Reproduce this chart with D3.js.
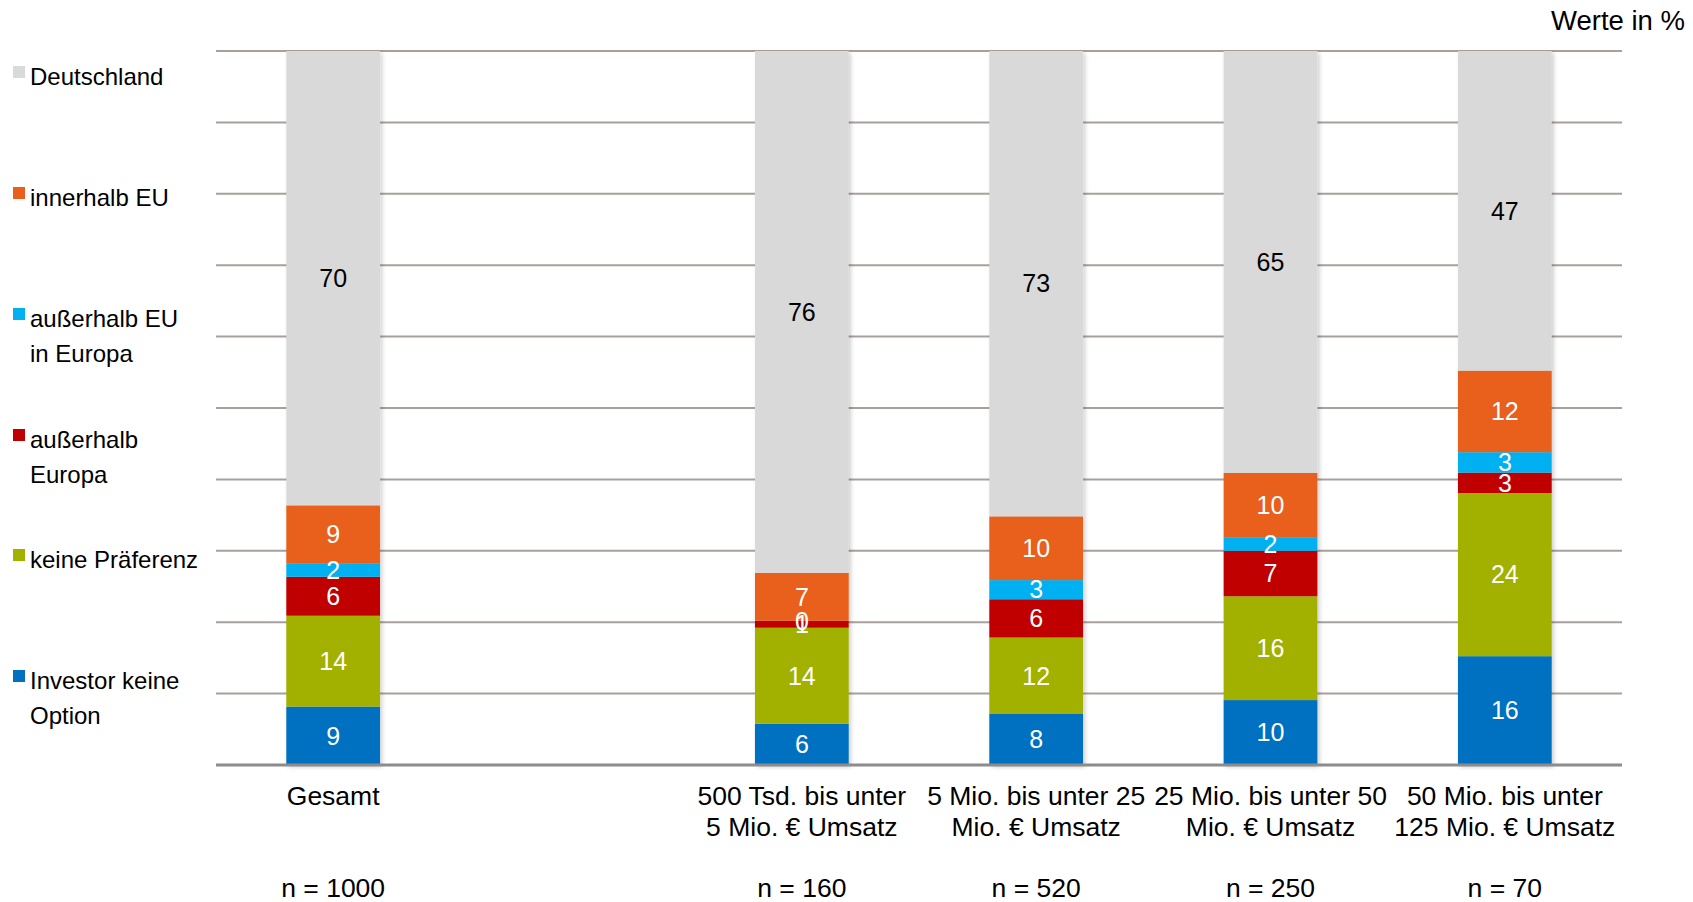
<!DOCTYPE html>
<html>
<head>
<meta charset="utf-8">
<script src="https://cdn.jsdelivr.net/npm/d3@7"></script>
<style>
  html, body { margin: 0; padding: 0; background: #fff; }
  svg { display: block; font-family: "Liberation Sans", Arial, sans-serif; }
</style>
</head>
<body>
<svg id="chart" width="1693" height="902"></svg>
<script>
// Categories (the empty slot keeps the gap after "Gesamt")
const categories = ["Gesamt", "", "500 Tsd. bis unter|5 Mio. € Umsatz", "5 Mio. bis unter 25|Mio. € Umsatz", "25 Mio. bis unter 50|Mio. € Umsatz", "50 Mio. bis unter|125 Mio. € Umsatz"];
const sampleSizes = ["n = 1000", "", "n = 160", "n = 520", "n = 250", "n = 70"];

// Series, listed bottom to top of each stack
const seriesNames = ["Investor keine Option", "keine Präferenz", "außerhalb Europa", "außerhalb EU in Europa", "innerhalb EU", "Deutschland"];
const legendLines = [["Investor keine", "Option"], ["keine Präferenz"], ["außerhalb", "Europa"], ["außerhalb EU", "in Europa"], ["innerhalb EU"], ["Deutschland"]];
const seriesColors = ["#0070c0", "#a2b000", "#c00000", "#00b0f0", "#e8601c", "#d9d9d9"];

const investorKeineOption = [9, null, 6, 8, 10, 16];
const keinePraeferenz     = [14, null, 14, 12, 16, 24];
const ausserhalbEuropa    = [6, null, 1, 6, 7, 3];
const ausserhalbEUEuropa  = [2, null, 0, 3, 2, 3];
const innerhalbEU         = [9, null, 7, 10, 10, 12];
const deutschland         = [70, null, 76, 73, 65, 47];

const seriesValues = [investorKeineOption, keinePraeferenz, ausserhalbEuropa, ausserhalbEUEuropa, innerhalbEU, deutschland];

const rows = categories.map((c, i) => {
  const r = { cat: c, idx: i };
  seriesNames.forEach((s, j) => r[s] = seriesValues[j][i] == null ? 0 : seriesValues[j][i]);
  r.empty = seriesValues[0][i] == null;
  return r;
});

const svg = d3.select("#chart");
const plotLeft = 216, plotRight = 1622, plotTop = 51, plotBottom = 765;

const x = d3.scaleBand().domain(d3.range(categories.length)).range([plotLeft, plotRight]).paddingInner(0).paddingOuter(0);
const y = d3.scaleLinear().domain([0, 1]).range([plotBottom, plotTop]);
const barW = x.bandwidth() * 0.4;

// 100 % stacked layout
const stacked = d3.stack().keys(seriesNames).offset(d3.stackOffsetExpand)(rows.filter(r => !r.empty));

// Gridlines
svg.append("g")
  .selectAll("line")
  .data(y.ticks(10).filter(t => t > 0))
  .join("line")
  .attr("x1", plotLeft).attr("x2", plotRight)
  .attr("y1", d => y(d)).attr("y2", d => y(d))
  .attr("stroke", "#a8a09c").attr("stroke-width", 2);

// Soft shadow under bars
const defs = svg.append("defs");
const f = defs.append("filter").attr("id", "shadow").attr("x", "-20%").attr("y", "-20%").attr("width", "140%").attr("height", "140%");
f.append("feDropShadow").attr("dx", 2).attr("dy", 2).attr("stdDeviation", 2).attr("flood-color", "#000").attr("flood-opacity", 0.2);

// Bars
const layers = svg.append("g").attr("filter", "url(#shadow)")
  .selectAll("g").data(stacked).join("g")
  .attr("fill", (d, i) => seriesColors[i]);

layers.selectAll("rect")
  .data(d => d)
  .join("rect")
  .attr("x", d => x(d.data.idx) + (x.bandwidth() - barW) / 2)
  .attr("width", barW)
  .attr("y", d => y(d[1]))
  .attr("height", d => y(d[0]) - y(d[1]));

// Baseline axis
svg.append("g")
  .attr("transform", `translate(0,${plotBottom})`)
  .call(d3.axisBottom(x).tickSize(0).tickFormat(""))
  .call(g => g.select(".domain").attr("stroke", "#8c8c8c").attr("stroke-width", 3).attr("d", `M${plotLeft},0H${plotRight}`));

// Value labels
const labels = svg.append("g").attr("font-size", 25).attr("text-anchor", "middle");
stacked.forEach((layer, i) => {
  labels.selectAll(null)
    .data(layer)
    .join("text")
    .attr("x", d => x(d.data.idx) + x.bandwidth() / 2)
    .attr("y", d => (y(d[0]) + y(d[1])) / 2)
    .attr("dy", "0.35em")
    .attr("fill", seriesNames[i] === "Deutschland" ? "#000" : "#fff")
    .text(d => d.data[seriesNames[i]]);
});

// Category labels
const catG = svg.append("g").attr("font-size", 26.5).attr("text-anchor", "middle").attr("fill", "#000");
categories.forEach((c, i) => {
  const cx = x(i) + x.bandwidth() / 2;
  c.split("|").forEach((line, k) => {
    catG.append("text").attr("x", cx).attr("y", 805 + k * 31).text(line);
  });
  catG.append("text").attr("x", cx).attr("y", 897).text(sampleSizes[i]);
});

// Legend (top item first)
const legendOrder = d3.range(seriesNames.length).reverse();
const legend = svg.append("g").attr("font-size", 24).attr("fill", "#000");
const legendTops = [77, 198, 319, 440, 560, 681];
legendOrder.forEach((j, k) => {
  const cy = legendTops[k];
  legend.append("rect").attr("x", 13).attr("y", cy - 11).attr("width", 12).attr("height", 12).attr("fill", seriesColors[j]);
  legendLines[j].forEach((line, li) => {
    legend.append("text").attr("x", 30).attr("y", cy + 8 + li * 35).text(line);
  });
});

// Unit note
svg.append("text").attr("x", 1685).attr("y", 30).attr("text-anchor", "end").attr("font-size", 27.5).attr("fill", "#000").text("Werte in %");
</script>
</body>
</html>
